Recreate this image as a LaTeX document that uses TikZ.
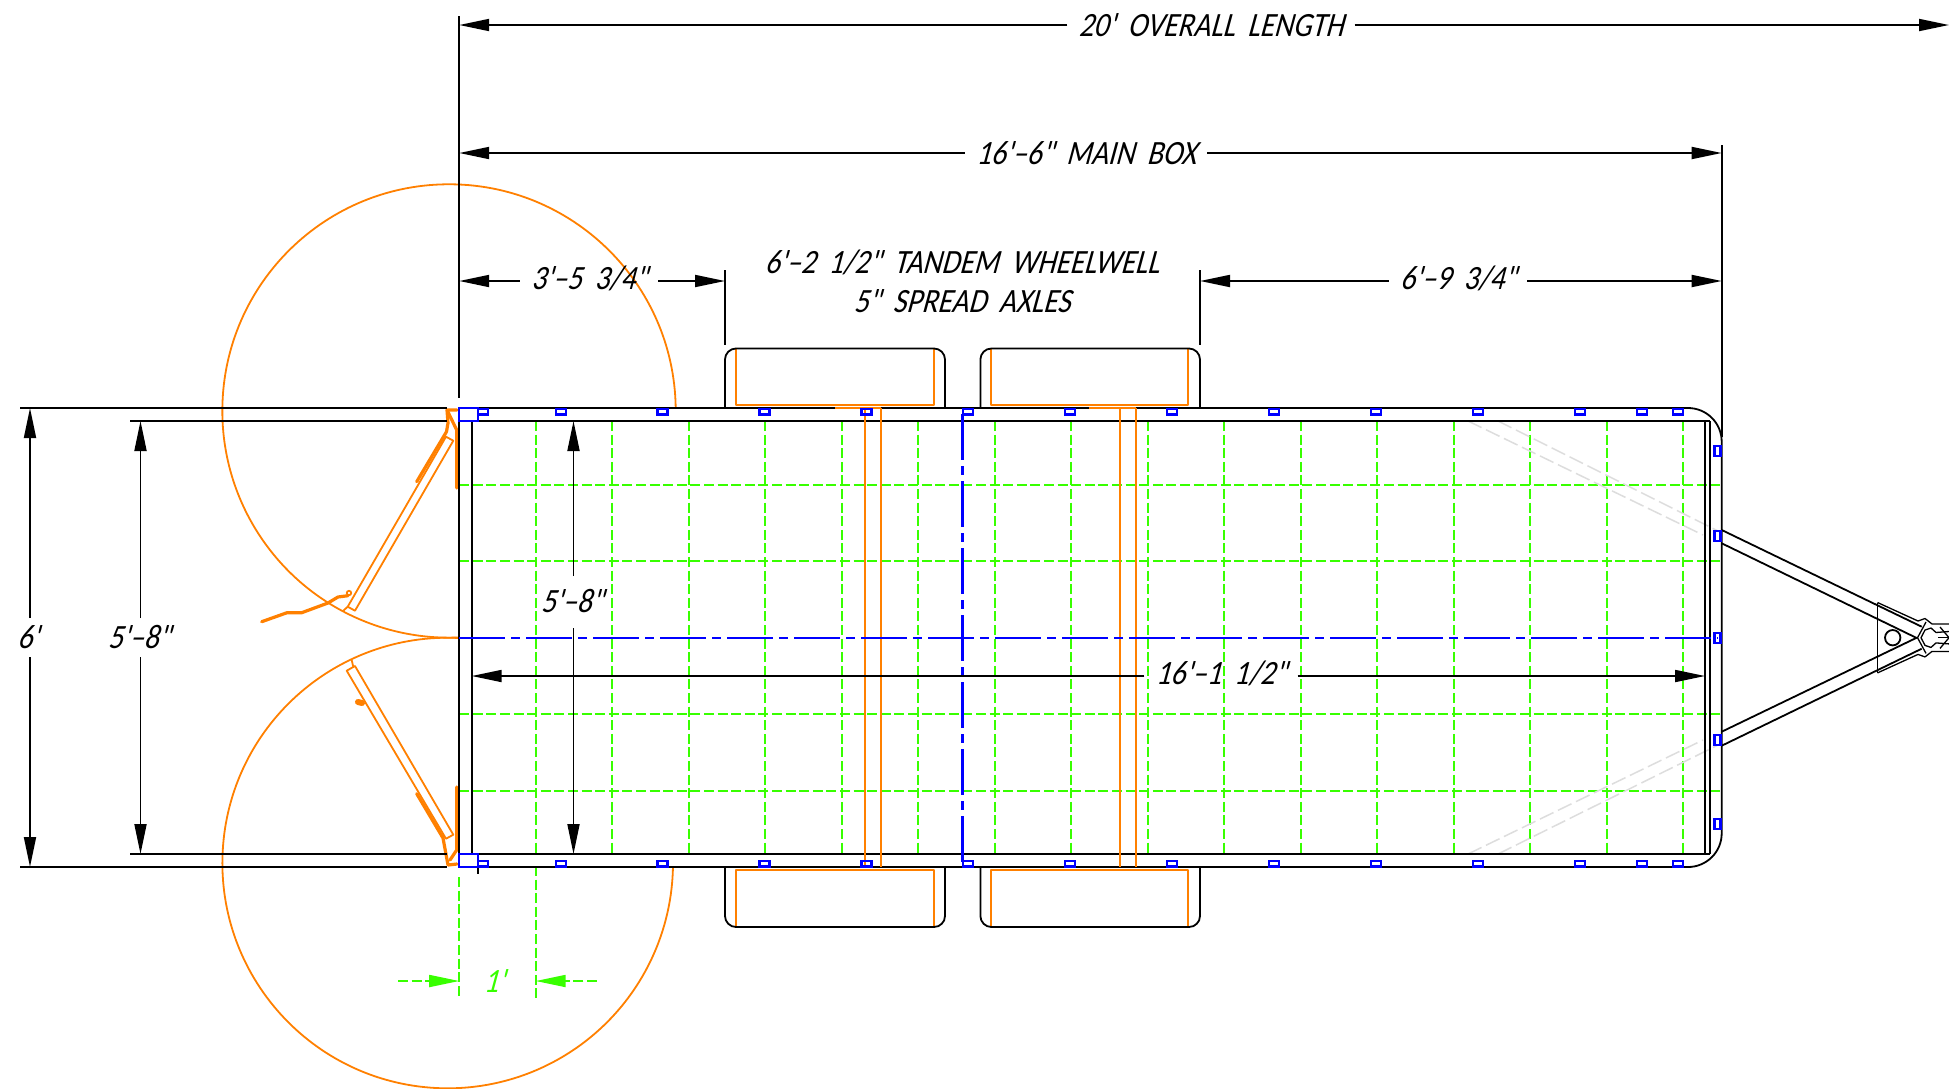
\documentclass[tikz,border=0pt]{standalone}
\usepackage{fontspec}
\usetikzlibrary{arrows.meta}
\newfontfamily\cadfont[FakeSlant=0.27,FakeStretch=0.86,WordSpace=1.9]{Carlito}
\definecolor{cadorange}{HTML}{FF8000}
\definecolor{cadgreen}{HTML}{38FF00}
\definecolor{cadgray}{HTML}{DDDDDD}
\tikzset{
  obj/.style={draw=black,line width=1.8pt,line join=round},
  dimline/.style={draw=black,line width=1.8pt},
  dimarrow/.style={dimline,-{Triangle[length=30pt,width=12pt]}},
  dimtxt/.style={font=\cadfont\fontsize{34}{34}\selectfont,text=black,inner xsep=11pt,inner ysep=8pt,text height=22pt,text depth=0pt},
  greentxt/.style={dimtxt,text=cadgreen},
  gridline/.style={draw=cadgreen,line width=1.8pt,dash pattern=on 10pt off 3.6pt},
  gridarrow/.style={gridline,-{Triangle[length=30pt,width=12pt,fill=cadgreen]}},
  ghost/.style={draw=cadgray,line width=1.5pt,dash pattern=on 15pt off 5pt},
  centerline/.style={draw=blue,line width=2.1pt,dash pattern=on 46pt off 6pt on 9pt off 6pt},
  bluebox/.style={draw=blue,line width=2.2pt},
  orthin/.style={draw=cadorange,line width=1.8pt,line join=round},
  orthick/.style={draw=cadorange,line width=3.2pt,line join=round,line cap=round}
}
\begin{document}
\begin{tikzpicture}[x=1pt,y=-1pt]
\useasboundingbox (0,0) rectangle (1949,1088);
\fill[white] (0,0) rectangle (1949,1088);

% ---------- green grid ----------
\foreach \k in {1,...,16}{
  \draw[gridline] ({459.2+76.5*\k},421) -- ({459.2+76.5*\k},854);
}
\foreach \y in {485,561.2,714.2,790.7}{
  \draw[gridline] (459.2,\y) -- (1721,\y);
}
\coordinate (gA) at (459.2,877);
\coordinate (gAe) at (459.2,998);
\coordinate (gB) at (535.7,866);
\coordinate (gBe) at (535.7,998);
\draw[gridline] (gA) -- (gAe);
\draw[gridline] (gB) -- (gBe);
\coordinate (gl) at (398,981);
\coordinate (gla) at (459.2,981);
\coordinate (gr) at (597,981);
\coordinate (gra) at (535.7,981);
\draw[gridarrow] (gl) -- (gla);
\draw[gridarrow] (gr) -- (gra);
\node[greentxt] (tOne) at (494,981) {1'};

% ---------- gray frame ghosts ----------
\draw[ghost] (1468,421) -- (1703,535);
\draw[ghost] (1498,421) -- (1720,532);
\draw[ghost] (1468,854) -- (1703,740);
\draw[ghost] (1498,854) -- (1720,744);

% ---------- orange swing arcs ----------
\draw[orthin] (675.7,408) arc[start angle=-0.75,end angle=-272.5,radius=226.7];
\draw[orthin] (459.2,638) arc[start angle=-87.07,end angle=-359,radius=225.3];
\draw[orthin] (455,637.7) -- (459.2,637.7);

% ---------- orange doors ----------
\draw[orthin] (446,436.7) -- (453.3,440.7) -- (355,610.7) -- (347.7,606.7) -- cycle;
\draw[orthin] (347.7,606.7) -- (343.3,610.7);
\draw[orthick] (416.7,481.7) -- (446.5,431.7) -- (448,423) -- (447,410) -- (457,410);
\draw[orthick] (448,412) -- (456.7,430) -- (456.7,488);
\draw[orthick] (261.7,621.7) -- (287,612.7) -- (301.7,612.7) -- (328,603) -- (338,597) -- (348,595.7);
\draw[orthin] (349,593) circle[radius=2.2];

\draw[orthin] (446,838.7) -- (453.3,834.7) -- (355,666) -- (346.7,670.7) -- cycle;
\draw[orthin] (353.3,667) -- (351.7,660);
\draw[orthick] (416.7,793.7) -- (443,838) -- (448,865) -- (457,864);
\draw[orthick] (450,860) -- (456.7,850) -- (456.7,787);
\draw[orthick,line width=6pt] (358,702) -- (362,703);

% ---------- orange wheels ----------
\draw[orthin] (736,348) -- (736,405) -- (933.6,405) -- (933.6,348);
\draw[orthin] (990.7,348) -- (990.7,405) -- (1188,405) -- (1188,348);
\draw[orthin] (736,927) -- (736,870) -- (933.6,870) -- (933.6,927);
\draw[orthin] (990.7,927) -- (990.7,870) -- (1188,870) -- (1188,927);

% ---------- black trailer outline ----------
\draw[obj] (478,408) -- (1688,408) arc[start angle=-90,end angle=0,radius=33.7] -- (1721.7,833.3)
   arc[start angle=0,end angle=90,radius=33.7] -- (478,867);
\draw[obj] (459.2,408) -- (459.2,867);
\draw[obj] (471.7,421) -- (471.7,854);
\draw[obj] (478,421) -- (1710,421);
\draw[obj] (478,854) -- (1710,854);
\draw[obj] (1705,421) -- (1705,854);
\draw[obj] (1710,421) -- (1710,854);
\draw[obj] (20,408) -- (447,408);
\draw[obj] (130,421) -- (447,421);
\draw[obj] (20,867) -- (447,867);
\draw[obj] (130,854) -- (447,854);
\draw[obj] (478,867) -- (478,874);
\draw[obj] (546,854) -- (585,854);

% tires
\draw[obj,rounded corners=11pt] (725,408) -- (725,348.5) -- (945,348.5) -- (945,408);
\draw[obj,rounded corners=11pt] (980.4,408) -- (980.4,348.5) -- (1200,348.5) -- (1200,408);
\draw[obj,rounded corners=11pt] (725,867) -- (725,927) -- (945,927) -- (945,867);
\draw[obj,rounded corners=11pt] (980.4,867) -- (980.4,927) -- (1200,927) -- (1200,867);

% axles (over the outline)
\draw[orthin] (835,408) -- (881,408);
\draw[orthin] (1089,408) -- (1136,408);
\draw[orthin] (865,408) -- (865,867);
\draw[orthin] (881,408) -- (881,867);
\draw[orthin] (1120,408) -- (1120,867);
\draw[orthin] (1136,408) -- (1136,867);

% ---------- tongue ----------
\draw[obj] (1721.7,530) -- (1921.7,626.7);
\draw[obj] (1721.7,543.3) -- (1916.7,638);
\draw[obj] (1721.7,745.7) -- (1921.7,648.7);
\draw[obj] (1721.7,731.7) -- (1916.7,637.7);
\draw[obj] (1877.5,602.5) -- (1877.5,672.9);
\draw[obj] (1892.7,637.7) circle[radius=7.7];
\draw[obj,line width=1.3pt] (1877.5,602.5) -- (1918,621) -- (1925,618.5) -- (1932,624) -- (1949,624);
\draw[obj,line width=1.3pt] (1877.5,672.9) -- (1918,654.4) -- (1925,656.9) -- (1932,651.4) -- (1949,651.4);
\draw[obj,line width=1.3pt] (1926,622) -- (1917.5,637.7) -- (1926,653.4);
\draw[obj,line width=1.3pt] (1949,631.5) -- (1936,632.5) -- (1931,628) -- (1925,630) -- (1921,637.7) -- (1925,645.4) -- (1931,647.4) -- (1936,642.9) -- (1949,643.9);
\draw[obj,line width=1.3pt] (1938,637.7) -- (1949,637.7);
\draw[obj,line width=1.3pt] (1940,627) -- (1949,637.7) -- (1940,648.4);

% ---------- blue centre lines ----------
\draw[centerline] (459.2,637.7) -- (1718,637.7);
\draw[centerline] (962.5,414) -- (962.5,867);

% ---------- blue brackets ----------
\draw[bluebox] (459.2,408) rectangle (477.7,420.7);
\draw[bluebox] (477.7,409) rectangle (487.7,414.5);
\draw[bluebox] (459.2,854.3) rectangle (478,867);
\draw[bluebox] (478,861) rectangle (488,866.5);
\foreach \x in {560.6,662.5,764.5,866.4,968.3,1070.2,1172.2,1274,1376,1478,1580,1642,1678}{
  \draw[bluebox] ({\x-5},409) rectangle ({\x+5},414.5);
  \draw[bluebox] ({\x-5},861) rectangle ({\x+5},866.5);
}
\foreach \y in {451,535.7,637.7,739.7,824.3}{
  \draw[bluebox] (1714.5,{\y-5}) rectangle (1720.5,{\y+5});
}

% ---------- dimensions ----------
\node[dimtxt] (tOverall) at (1211,25) {20' OVERALL LENGTH};
\coordinate (ovL) at (459.2,25);
\coordinate (ovR) at (1949,25);
\draw[dimarrow] (tOverall.west) -- (ovL);
\draw[dimarrow] (tOverall.east) -- (ovR);
\coordinate (extTop) at (459.2,16);
\coordinate (extBot) at (459.2,398);
\draw[dimline] (extTop) -- (extBot);

\node[dimtxt] (tMain) at (1086,153) {16'–6" MAIN BOX};
\coordinate (mbL) at (459.2,153);
\coordinate (mbR) at (1721.7,153);
\draw[dimarrow] (tMain.west) -- (mbL);
\draw[dimarrow] (tMain.east) -- (mbR);
\coordinate (extR) at (1721.7,145);
\coordinate (extRb) at (1721.7,437);
\draw[dimline] (extR) -- (extRb);

\node[dimtxt] (tRear) at (589,278) {3'–5 3/4"};
\coordinate (rL) at (459.2,281);
\coordinate (rR) at (725,281);
\draw[dimarrow] (tRear.west |- rL) -- (rL);
\draw[dimarrow] (tRear.east |- rR) -- (rR);
\coordinate (extW) at (725,270);
\coordinate (extWb) at (725,345);
\draw[dimline] (extW) -- (extWb);

\node[dimtxt] (tFront) at (1458,278) {6'–9 3/4"};
\coordinate (fL) at (1200,281);
\coordinate (fR) at (1721.7,281);
\draw[dimarrow] (tFront.west |- fL) -- (fL);
\draw[dimarrow] (tFront.east |- fR) -- (fR);
\coordinate (extF) at (1200,270);
\coordinate (extFb) at (1200,345);
\draw[dimline] (extF) -- (extFb);

\node[dimtxt] (tTandem) at (962,262) {6'–2 1/2" TANDEM WHEELWELL};
\node[dimtxt] (tSpread) at (962,301) {5" SPREAD AXLES};

\node[dimtxt] (tOuter) at (28,637.7) {6'};
\coordinate (oT) at (30,408);
\coordinate (oB) at (30,867);
\coordinate (oTs) at (30,618);
\coordinate (oBs) at (30,657);
\draw[dimarrow] (oTs) -- (oT);
\draw[dimarrow] (oBs) -- (oB);

\node[dimtxt] (tInnerL) at (139,637.7) {5'–8"};
\coordinate (iT) at (140.5,421);
\coordinate (iB) at (140.5,854);
\coordinate (iTs) at (140.5,618);
\coordinate (iBs) at (140.5,657);
\draw[dimarrow] (iTs) -- (iT);
\draw[dimarrow] (iBs) -- (iB);

\node[dimtxt] (tInnerC) at (572,601) {5'–8"};
\coordinate (cT) at (573.5,421);
\coordinate (cB) at (573.5,854);
\coordinate (cTs) at (573.5,576);
\coordinate (cBs) at (573.5,628);
\draw[dimarrow] (cTs) -- (cT);
\draw[dimarrow] (cBs) -- (cB);

\node[dimtxt] (tInside) at (1221,673) {16'–1 1/2"};
\coordinate (inL) at (471.7,676);
\coordinate (inR) at (1705,676);
\draw[dimarrow] (tInside.west |- inL) -- (inL);
\draw[dimarrow] (tInside.east |- inR) -- (inR);
\end{tikzpicture}
\end{document}
